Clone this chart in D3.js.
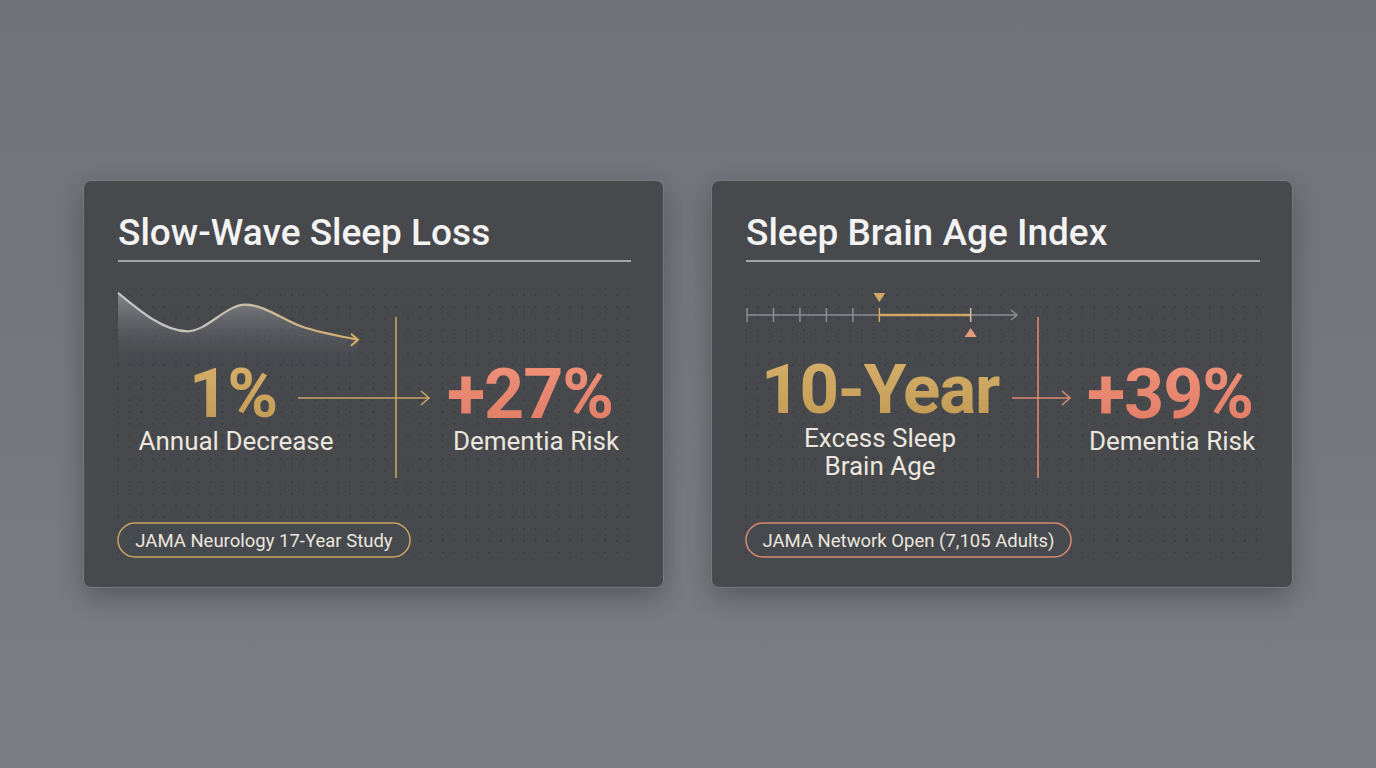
<!DOCTYPE html>
<html>
<head>
<meta charset="utf-8">
<script src="https://cdn.jsdelivr.net/npm/d3@7"></script>
<style>
  body { margin: 0; background: #72757a; }
  svg { display: block; }
</style>
</head>
<body>
<svg id="chart" width="1376" height="768"></svg>
<script>
// values
var cardTitles = ["Slow-Wave Sleep Loss", "Sleep Brain Age Index"];
var leadStats = ["1%", "10-Year"];
var leadLabels = [["Annual Decrease"], ["Excess Sleep", "Brain Age"]];
var riskIncrease = [27, 39];
var riskLabel = "Dementia Risk";
var sources = ["JAMA Neurology 17-Year Study", "JAMA Network Open (7,105 Adults)"];

// slow-wave sleep curve (relative level over time)
var waveTime = [0, 2.9, 5.3, 7.8, 10];
var waveLevel = [96, 41, 79, 46, 29];

// sleep brain age timeline
var ageTicks = [0, 1, 2, 3, 4, 5];
var chronoAge = 5;
var brainAge = 8.45;
var ageAxisEnd = 10.2;

var gold = "#c9a464", salmon = "#e4846d", textLight = "#ebe6de";

var svg = d3.select("#chart"),
    width = +svg.attr("width"),
    height = +svg.attr("height");

var defs = svg.append("defs");

var bg = defs.append("linearGradient").attr("id", "bg").attr("x1", 0).attr("y1", 0).attr("x2", 0).attr("y2", 1);
bg.append("stop").attr("offset", "0%").attr("stop-color", "#6f7278");
bg.append("stop").attr("offset", "100%").attr("stop-color", "#7a7d82");

var shadow = defs.append("filter").attr("id", "shadow").attr("x", "-20%").attr("y", "-20%").attr("width", "140%").attr("height", "150%");
shadow.append("feDropShadow").attr("dx", 0).attr("dy", 10).attr("stdDeviation", 14)
  .attr("flood-color", "#000").attr("flood-opacity", 0.28);

var areaGrad = defs.append("linearGradient").attr("id", "waveFill").attr("x1", 0).attr("y1", 0).attr("x2", 0).attr("y2", 1);
areaGrad.append("stop").attr("offset", "0%").attr("stop-color", "#9a9ca0").attr("stop-opacity", 0.75);
areaGrad.append("stop").attr("offset", "100%").attr("stop-color", "#46494e").attr("stop-opacity", 0.2);

var strokeGrad = defs.append("linearGradient").attr("id", "waveStroke").attr("gradientUnits", "userSpaceOnUse")
  .attr("x1", 118).attr("x2", 358).attr("y1", 0).attr("y2", 0);
strokeGrad.append("stop").attr("offset", "0%").attr("stop-color", "#c4c5c8");
strokeGrad.append("stop").attr("offset", "45%").attr("stop-color", "#c9c2b4");
strokeGrad.append("stop").attr("offset", "100%").attr("stop-color", "#d6ad6a");

var goldGrad = defs.append("linearGradient").attr("id", "goldText").attr("x1", 0).attr("y1", 0).attr("x2", 0).attr("y2", 1);
goldGrad.append("stop").attr("offset", "0%").attr("stop-color", "#d8b26c");
goldGrad.append("stop").attr("offset", "100%").attr("stop-color", "#bf9752");

var salmonGrad = defs.append("linearGradient").attr("id", "salmonText").attr("x1", 0).attr("y1", 0).attr("x2", 0).attr("y2", 1);
salmonGrad.append("stop").attr("offset", "0%").attr("stop-color", "#f0937b");
salmonGrad.append("stop").attr("offset", "100%").attr("stop-color", "#e07a64");

svg.append("rect").attr("width", width).attr("height", height).attr("fill", "url(#bg)");

// card layout
var cards = [
  { x: 84, y: 181, w: 579, h: 406, accent: gold, vx: 396, ax0: 298, ax1: 429,
    statX: 233, statY: 417, labelX: 236, labelY: 450, riskX: 530, riskLabelX: 536, badgeW: 292 },
  { x: 712, y: 181, w: 580, h: 406, accent: "#d98a72", vx: 1038, ax0: 1012, ax1: 1070,
    statX: 880, statY: 413, labelX: 880, labelY: 447, riskX: 1170, riskLabelX: 1172, badgeW: 325 }
];

var card = svg.selectAll("g.card")
  .data(cards)
  .enter().append("g")
  .attr("class", "card");

card.append("rect")
  .attr("x", function(d) { return d.x; })
  .attr("y", function(d) { return d.y; })
  .attr("width", function(d) { return d.w; })
  .attr("height", function(d) { return d.h; })
  .attr("rx", 7)
  .attr("fill", "#46494e")
  .attr("stroke", "rgba(255,255,255,0.06)")
  .attr("filter", "url(#shadow)");

card.append("text")
  .attr("x", function(d) { return d.x + 34; })
  .attr("y", 245)
  .attr("fill", "#f3f3f3")
  .attr("font-family", "Roboto, sans-serif")
  .attr("font-weight", 500)
  .attr("font-size", "37px")
  .text(function(d, i) { return cardTitles[i]; });

card.append("line")
  .attr("x1", function(d) { return d.x + 34; })
  .attr("x2", function(d) { return d.x + d.w - 32; })
  .attr("y1", 261).attr("y2", 261)
  .attr("stroke", "#c3c4c6")
  .attr("stroke-width", 1.5);

// wave (left card) goes under the dot grid
var xWave = d3.scaleLinear().domain([0, 10]).range([118, 358]);
var yWave = d3.scaleLinear().domain([0, 100]).range([360, 290]);
var waveData = waveTime.map(function(t, i) { return { t: t, v: waveLevel[i] }; });

svg.append("path")
  .datum(waveData)
  .attr("fill", "url(#waveFill)")
  .attr("d", d3.area()
    .x(function(d) { return xWave(d.t); })
    .y0(363)
    .y1(function(d) { return yWave(d.v); })
    .curve(d3.curveMonotoneX));

// dot grids
card.each(function(d) {
  var g = d3.select(this).append("g");
  var cols = d3.range(d.x + 34, d.x + d.w - 30, 11.6);
  var rows = d3.range(295, 558, 11.7);
  rows.forEach(function(y) {
    g.selectAll(null).data(cols).enter().append("circle")
      .attr("cx", function(x) { return x; })
      .attr("cy", y)
      .attr("r", 1)
      .attr("fill", "#383b40");
  });
});

svg.append("path")
  .datum(waveData)
  .attr("fill", "none")
  .attr("stroke", "url(#waveStroke)")
  .attr("stroke-width", 2.2)
  .attr("d", d3.line()
    .x(function(d) { return xWave(d.t); })
    .y(function(d) { return yWave(d.v); })
    .curve(d3.curveMonotoneX));

var waveEnd = waveData[waveData.length - 1];
svg.append("path")
  .attr("fill", "none")
  .attr("stroke", "#d6ad6a")
  .attr("stroke-width", 2)
  .attr("d", chevron(xWave(waveEnd.t), yWave(waveEnd.v), 7, 6));

// timeline (right card)
var xAge = d3.scaleLinear().domain([0, ageAxisEnd]).range([747, 1017]);
var tl = svg.append("g");
tl.append("line")
  .attr("x1", xAge(0)).attr("x2", xAge(ageAxisEnd))
  .attr("y1", 315).attr("y2", 315)
  .attr("stroke", "#8b8e93").attr("stroke-width", 1.5);
tl.append("path")
  .attr("fill", "none").attr("stroke", "#8b8e93").attr("stroke-width", 1.5)
  .attr("d", chevron(xAge(ageAxisEnd), 315, 6, 5));
tl.selectAll("line.tick")
  .data(ageTicks)
  .enter().append("line")
  .attr("class", "tick")
  .attr("x1", function(d) { return xAge(d); })
  .attr("x2", function(d) { return xAge(d); })
  .attr("y1", 308).attr("y2", 322)
  .attr("stroke", function(d) { return d === chronoAge ? "#d0aa66" : "#8b8e93"; })
  .attr("stroke-width", 1.5);
tl.append("line")
  .attr("x1", xAge(chronoAge)).attr("x2", xAge(brainAge))
  .attr("y1", 315).attr("y2", 315)
  .attr("stroke", "#cfa865").attr("stroke-width", 2.5);
tl.append("line")
  .attr("x1", xAge(brainAge)).attr("x2", xAge(brainAge))
  .attr("y1", 308).attr("y2", 322)
  .attr("stroke", "#d9b89a").attr("stroke-width", 1.5);
tl.append("path")
  .attr("fill", "#cfa865")
  .attr("d", "M" + (xAge(chronoAge) - 6) + ",293 L" + (xAge(chronoAge) + 6) + ",293 L" + xAge(chronoAge) + ",302 Z");
tl.append("path")
  .attr("fill", "#e59a7c")
  .attr("d", "M" + (xAge(brainAge) - 6) + ",337 L" + (xAge(brainAge) + 6) + ",337 L" + xAge(brainAge) + ",328 Z");

// divider + arrow per card
card.append("line")
  .attr("x1", function(d) { return d.vx; })
  .attr("x2", function(d) { return d.vx; })
  .attr("y1", 317).attr("y2", 478)
  .attr("stroke", function(d) { return d.accent; })
  .attr("stroke-width", 1.6);

card.append("line")
  .attr("x1", function(d) { return d.ax0; })
  .attr("x2", function(d) { return d.ax1; })
  .attr("y1", 398).attr("y2", 398)
  .attr("stroke", function(d) { return d.accent; })
  .attr("stroke-width", 1.6);

card.append("path")
  .attr("fill", "none")
  .attr("stroke", function(d) { return d.accent; })
  .attr("stroke-width", 1.6)
  .attr("d", function(d) { return chevron(d.ax1, 398, 8, 7); });

// big numbers
card.append("text")
  .attr("x", function(d) { return d.statX; })
  .attr("y", function(d) { return d.statY; })
  .attr("text-anchor", "middle")
  .attr("fill", "url(#goldText)")
  .attr("font-family", "Roboto, sans-serif")
  .attr("font-weight", 700)
  .attr("font-size", "69px")
  .attr("letter-spacing", "-1.2px")
  .text(function(d, i) { return leadStats[i]; });

card.each(function(d, i) {
  d3.select(this).selectAll("text.lead-label")
    .data(leadLabels[i])
    .enter().append("text")
    .attr("class", "lead-label")
    .attr("x", d.labelX)
    .attr("y", function(t, j) { return d.labelY + j * 28; })
    .attr("text-anchor", "middle")
    .attr("fill", textLight)
    .attr("font-family", "Roboto, sans-serif")
    .attr("font-size", "26px")
    .text(function(t) { return t; });
});

card.append("text")
  .attr("x", function(d) { return d.riskX; })
  .attr("y", 418)
  .attr("text-anchor", "middle")
  .attr("fill", "url(#salmonText)")
  .attr("font-family", "Roboto, sans-serif")
  .attr("font-weight", 700)
  .attr("font-size", "70px")
  .attr("letter-spacing", "-1px")
  .text(function(d, i) { return "+" + riskIncrease[i] + "%"; });

card.append("text")
  .attr("x", function(d) { return d.riskLabelX; })
  .attr("y", 450)
  .attr("text-anchor", "middle")
  .attr("fill", textLight)
  .attr("font-family", "Roboto, sans-serif")
  .attr("font-size", "26px")
  .text(riskLabel);

// source badges
card.append("rect")
  .attr("x", function(d) { return d.x + 34; })
  .attr("y", 523)
  .attr("width", function(d) { return d.badgeW; })
  .attr("height", 34)
  .attr("rx", 17)
  .attr("fill", "#46494e")
  .attr("stroke", function(d) { return d.accent; })
  .attr("stroke-width", 1.5);

card.append("text")
  .attr("x", function(d) { return d.x + 34 + d.badgeW / 2; })
  .attr("y", 547)
  .attr("text-anchor", "middle")
  .attr("fill", textLight)
  .attr("font-family", "Roboto, sans-serif")
  .attr("font-size", "18.5px")
  .text(function(d, i) { return sources[i]; });

function chevron(x, y, len, half) {
  return "M" + (x - len) + "," + (y - half) + " L" + x + "," + y + " L" + (x - len) + "," + (y + half);
}
</script>
</body>
</html>
